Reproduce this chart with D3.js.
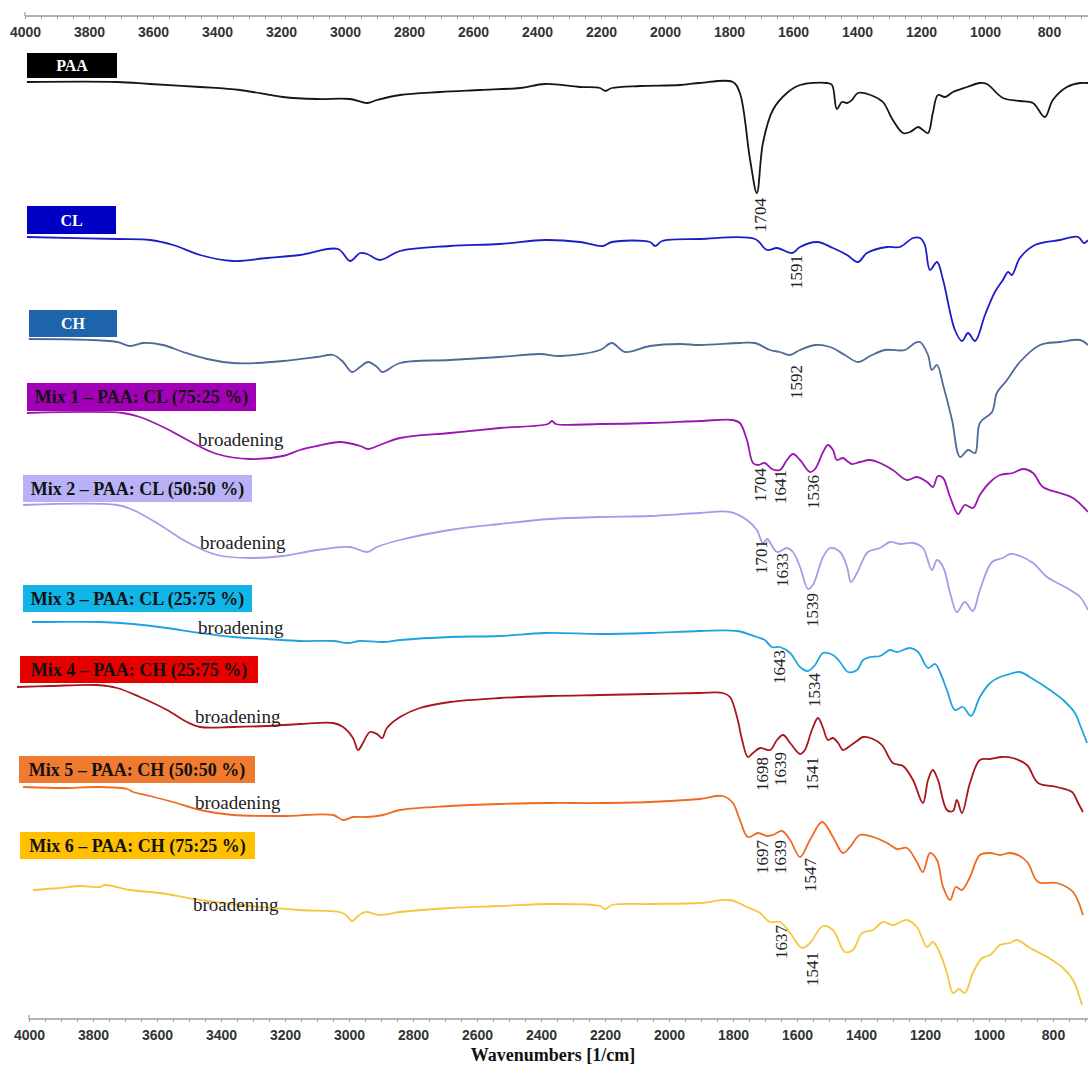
<!DOCTYPE html>
<html><head><meta charset="utf-8">
<script src="https://cdn.jsdelivr.net/npm/d3@7"></script>
<style>body{margin:0;background:#fff}</style>
</head><body>
<svg id="chart" width="1088" height="1065"></svg>
<script>
// ---------- DATA (wavenumber [1/cm], stacked transmittance a.u.) ----------
const seriesNames = ["PAA","CL","CH",
  "Mix 1 – PAA: CL (75:25 %)","Mix 2 – PAA: CL (50:50 %)","Mix 3 – PAA: CL (25:75 %)",
  "Mix 4 – PAA: CH (25:75 %)","Mix 5 – PAA: CH (50:50 %)","Mix 6 – PAA: CH (75:25 %)"];
const tickLabels = [4000,3800,3600,3400,3200,3000,2800,2600,2400,2200,2000,1800,1600,1400,1200,1000,800];
const axisTitle = "Wavenumbers [1/cm]";

const paa = [[3994,938],[3712,938],[3609,936],[3453,933],[3328,930],[3194,923],[3087,921],[2984,921],[2931,917],[2900,920],[2828,925],[2703,928],[2578,930],[2453,932],[2375,936],[2266,933],[2203,932],[2187,929],[2166,932],[2078,934],[1953,935],[1891,937],[1788,938],[1766,927],[1734,860],[1713,827],[1694,877],[1663,910],[1619,927],[1578,935],[1494,937],[1478,935],[1463,911],[1447,918],[1431,917],[1416,920],[1397,927],[1350,924],[1319,918],[1288,900],[1256,887],[1234,888],[1209,893],[1194,890],[1178,887],[1163,907],[1147,925],[1125,923],[1100,928],[1056,933],[1016,937],[994,936],[944,922],[891,919],[850,917],[813,903],[788,920],[744,933],[703,937],[678,937]];
const cl = [[3994,783],[3712,781],[3609,780],[3537,775],[3453,765],[3350,759],[3244,762],[3141,765],[3022,771],[2984,759],[2953,767],[2931,766],[2891,760],[2828,769],[2672,774],[2516,776],[2375,780],[2266,778],[2194,774],[2166,778],[2047,778],[2031,774],[2009,779],[1891,781],[1719,781],[1681,770],[1650,772],[1603,767],[1578,773],[1525,778],[1475,772],[1431,765],[1397,758],[1369,767],[1306,773],[1266,773],[1225,782],[1203,782],[1188,775],[1172,750],[1150,758],[1131,740],[1094,690],[1072,679],[1053,687],[1031,679],[1000,705],[969,728],[944,740],[928,748],[916,745],[891,762],[844,775],[766,780],[709,783],[691,777],[678,780]];
const ch = [[3988,681],[3712,678],[3672,674],[3631,677],[3569,675],[3506,668],[3431,661],[3350,657],[3275,657],[3194,659],[3087,663],[3037,665],[3006,658],[2978,648],[2953,653],[2928,658],[2900,653],[2884,648],[2828,657],[2672,660],[2516,663],[2391,666],[2328,664],[2203,670],[2166,677],[2125,668],[2047,674],[1953,676],[1891,675],[1766,677],[1719,677],[1672,670],[1641,668],[1609,665],[1578,670],[1531,675],[1484,673],[1438,665],[1397,658],[1359,664],[1313,670],[1250,670],[1219,677],[1203,678],[1178,665],[1166,650],[1150,655],[1131,635],[1103,600],[1078,563],[1053,570],[1031,567],[1016,597],[978,608],[963,627],[931,640],[891,658],[828,675],[766,678],[703,680],[678,675]];
const mix1 = [[3994,607],[3694,607],[3641,603],[3556,591],[3475,577],[3400,566],[3297,561],[3194,564],[3141,570],[3087,574],[3016,578],[2953,574],[2928,571],[2891,575],[2828,582],[2672,587],[2516,592],[2366,596],[2353,599],[2341,596],[2203,596],[2047,597],[1891,599],[1788,600],[1766,597],[1744,580],[1725,557],[1709,555],[1688,557],[1666,551],[1641,550],[1619,560],[1600,566],[1578,560],[1547,548],[1531,551],[1506,568],[1491,575],[1475,570],[1463,560],[1444,562],[1431,559],[1416,556],[1391,558],[1359,560],[1328,557],[1288,550],[1244,540],[1213,543],[1181,538],[1163,533],[1147,544],[1131,542],[1109,523],[1084,506],[1063,515],[1038,512],[1016,525],[984,538],[953,545],[913,547],[881,551],[850,547],[819,533],[766,527],[725,522],[678,508]];
const mix2 = [[4006,515],[3712,515],[3662,510],[3578,495],[3494,478],[3400,465],[3297,462],[3194,464],[3087,470],[2984,473],[2931,468],[2900,473],[2828,480],[2672,490],[2516,496],[2359,501],[2203,503],[2047,504],[1891,507],[1797,508],[1744,500],[1713,490],[1694,477],[1681,481],[1650,468],[1619,472],[1600,468],[1578,453],[1553,431],[1538,435],[1506,463],[1484,472],[1453,468],[1431,453],[1419,438],[1400,447],[1366,468],[1328,472],[1297,478],[1266,476],[1225,477],[1194,472],[1166,450],[1150,460],[1131,453],[1109,427],[1088,408],[1063,418],[1038,409],[1016,430],[978,458],[944,462],[922,466],[891,464],[850,457],[806,443],[744,432],[703,423],[678,410]];
const mix3 = [[3978,398],[3922,398],[3766,398],[3662,396],[3556,392],[3453,387],[3350,383],[3244,381],[3141,379],[3037,379],[2991,377],[2953,379],[2881,378],[2828,380],[2672,383],[2516,384],[2375,387],[2203,386],[2047,387],[1891,389],[1775,389],[1713,383],[1688,380],[1666,373],[1641,373],[1609,367],[1578,353],[1553,349],[1531,355],[1506,367],[1475,365],[1453,358],[1428,348],[1400,350],[1381,360],[1359,363],[1328,364],[1297,370],[1275,368],[1234,372],[1209,368],[1178,352],[1156,356],[1141,348],[1119,330],[1094,310],[1069,313],[1044,304],[1016,323],[984,337],[953,343],[922,346],[891,348],[850,341],[806,332],[756,320],[719,307],[703,295],[681,277]];
const mix4 = [[4025,333],[3922,334],[3775,335],[3712,332],[3641,323],[3556,310],[3494,298],[3453,293],[3350,293],[3244,294],[3141,296],[3037,297],[3006,293],[2975,282],[2959,270],[2944,277],[2922,288],[2900,286],[2884,282],[2869,292],[2828,303],[2766,312],[2672,318],[2516,322],[2359,324],[2203,325],[2047,326],[1891,327],[1819,327],[1797,323],[1775,303],[1759,280],[1741,263],[1725,267],[1703,272],[1672,270],[1650,280],[1631,285],[1609,277],[1578,266],[1563,270],[1541,290],[1522,302],[1506,292],[1491,280],[1475,282],[1459,277],[1444,270],[1422,274],[1400,279],[1381,283],[1350,281],[1322,275],[1288,257],[1256,254],[1225,240],[1194,217],[1178,240],[1163,250],[1147,240],[1119,210],[1100,209],[1088,220],[1072,207],[1047,237],[1016,260],[984,261],[947,263],[913,262],[869,255],[834,237],[775,233],[728,228],[709,217],[694,208]];
const mix5 = [[4006,233],[3869,232],[3766,233],[3681,231],[3662,228],[3609,224],[3537,218],[3453,210],[3350,205],[3194,204],[3037,205],[3006,200],[2975,203],[2931,203],[2881,205],[2828,210],[2672,214],[2516,216],[2359,217],[2203,217],[2047,218],[1891,221],[1819,224],[1788,217],[1766,200],[1741,183],[1709,187],[1681,184],[1663,185],[1634,189],[1609,180],[1578,163],[1547,180],[1509,198],[1475,183],[1444,167],[1422,173],[1391,185],[1350,183],[1306,177],[1275,171],[1244,172],[1213,158],[1194,148],[1172,167],[1150,160],[1131,133],[1109,120],[1091,133],[1072,130],[1047,143],[1016,165],[984,167],[953,165],[922,167],[891,164],[866,157],[834,138],[775,137],[725,128],[694,105]];
const mix6 = [[3975,130],[3891,132],[3828,134],[3766,133],[3750,135],[3672,130],[3578,127],[3453,120],[3297,114],[3141,110],[3016,108],[2997,105],[2978,99],[2959,104],[2937,108],[2891,105],[2828,108],[2672,112],[2516,114],[2359,116],[2203,114],[2187,111],[2166,115],[2047,116],[1891,117],[1797,120],[1744,113],[1703,107],[1672,98],[1641,98],[1609,87],[1572,72],[1547,77],[1506,94],[1475,90],[1438,68],[1413,70],[1384,87],[1350,90],[1319,98],[1288,95],[1244,100],[1213,93],[1181,73],[1163,78],[1141,67],[1119,47],[1100,27],[1081,31],[1063,27],[1038,47],[1009,62],[984,65],[953,75],[922,77],[900,80],[859,72],[806,63],[756,52],[725,40],[697,15]];

// peak annotations: [series index, label (cm-1), top of label in a.u.]
const peakLabels = [
  [0,1704,822],[1,1591,765],[2,1592,655],
  [3,1704,552],[3,1641,550],[3,1536,545],
  [4,1701,480],[4,1633,467],[4,1539,427],
  [5,1643,370],[5,1534,347],
  [6,1698,263],[6,1639,268],[6,1541,263],
  [7,1697,180],[7,1639,180],[7,1547,162],
  [8,1637,95],[8,1541,68]];
// "broadening" notes: [series index, wavenumber, a.u.]
const broadening = [[3,3459,580],[4,3453,477],[5,3459,392],[6,3469,303],[7,3469,217],[8,3475,115]];

const allSeries = [paa, cl, ch, mix1, mix2, mix3, mix4, mix5, mix6];

// ---------- STYLE / LAYOUT ----------
const lineColors = ["#161616","#1c1cc8","#4d6a98","#9a16b0","#a99ae8","#1fa3e0","#a8161c","#ef6a22","#f6c640"];
const boxColors  = ["#000000","#0000c4","#1e64aa","#a200b6","#b9b1f6","#12b5e8","#e60000","#f07b30","#ffc000"];
const boxTextColors = ["#fff","#fff","#fff","#111","#111","#111","#111","#111","#111"];
const boxLayout = [[27,53,90,25],[27,206,89,28],[29,310,88,27],[27,383,229,28],[23,475,229,27],[23,585,229,27],[20,656,238,27],[19,756,236,27],[20,832,235,27]];

const W = 1088, H = 1065;
const svg = d3.select("#chart");
const x = d3.scaleLinear().domain([4000, 800]).range([25, 1049]);
const y = d3.scaleLinear().domain([0, 1000]).range([1020, 20]);

// axes
function drawAxis(yPos, dx) {
  const g = svg.append("g").attr("transform", `translate(${dx},${yPos})`);
  const ax = d3.axisBottom(x)
    .tickValues(d3.range(4000, 690, -50))
    .tickSize(3).tickSizeOuter(0).tickPadding(8)
    .tickFormat(d => tickLabels.includes(d) ? d : "");
  g.call(ax);
  g.select(".domain").remove();
  g.append("line").attr("x1", x(4000)).attr("x2", W - dx).attr("y1", 0).attr("y2", 0)
    .attr("stroke", "#9a9a9a").attr("stroke-width", 1.5);
  g.append("line").attr("x1", x(4000)).attr("x2", x(4000)).attr("y1", -4).attr("y2", 0)
    .attr("stroke", "#9a9a9a").attr("stroke-width", 1.2);
  g.selectAll(".tick line").attr("stroke", "#9a9a9a").attr("stroke-width", 1);
  g.selectAll(".tick text").attr("fill", "#333").attr("font-family", "Liberation Sans, Arial, sans-serif")
    .attr("font-weight", "bold").attr("font-size", 14);
  return g;
}
drawAxis(16, 0);
drawAxis(1019, 4);

svg.append("text").attr("x", 553).attr("y", 1061).attr("text-anchor", "middle")
  .attr("font-family", "Liberation Serif, Times New Roman, serif").attr("font-weight", "bold")
  .attr("font-size", 18).attr("fill", "#111").text(axisTitle);

// spectra
const line = d3.line().x(d => x(d[0])).y(d => y(d[1])).curve(d3.curveCatmullRom.alpha(0.5));
allSeries.forEach((s, i) => {
  svg.append("path").datum(s).attr("d", line).attr("fill", "none")
    .attr("stroke", lineColors[i]).attr("stroke-width", 1.8).attr("stroke-linejoin", "round");
});

// legend boxes
seriesNames.forEach((name, i) => {
  const [bx, by, bw, bh] = boxLayout[i];
  svg.append("rect").attr("x", bx).attr("y", by).attr("width", bw).attr("height", bh).attr("fill", boxColors[i]);
  svg.append("text").attr("x", bx + bw / 2).attr("y", by + bh / 2).attr("dy", "0.35em")
    .attr("text-anchor", "middle").attr("font-family", "Liberation Serif, Times New Roman, serif")
    .attr("font-weight", "bold").attr("font-size", i < 3 ? 16 : 18).attr("fill", boxTextColors[i]).text(name);
});

// peak labels
peakLabels.forEach(([si, wn, top]) => {
  const px = x(wn), py = y(top);
  svg.append("text").attr("transform", `translate(${px},${py}) rotate(-90)`)
    .attr("dy", "0.35em").attr("text-anchor", "end")
    .attr("font-family", "Liberation Serif, Times New Roman, serif").attr("font-size", 17)
    .attr("fill", "#222").text(wn);
});

// broadening notes
broadening.forEach(([si, wn, v]) => {
  svg.append("text").attr("x", x(wn)).attr("y", y(v)).attr("dy", "0.32em")
    .attr("font-family", "Liberation Serif, Times New Roman, serif").attr("font-size", 19)
    .attr("fill", "#222").text("broadening");
});
</script>
</body></html>
